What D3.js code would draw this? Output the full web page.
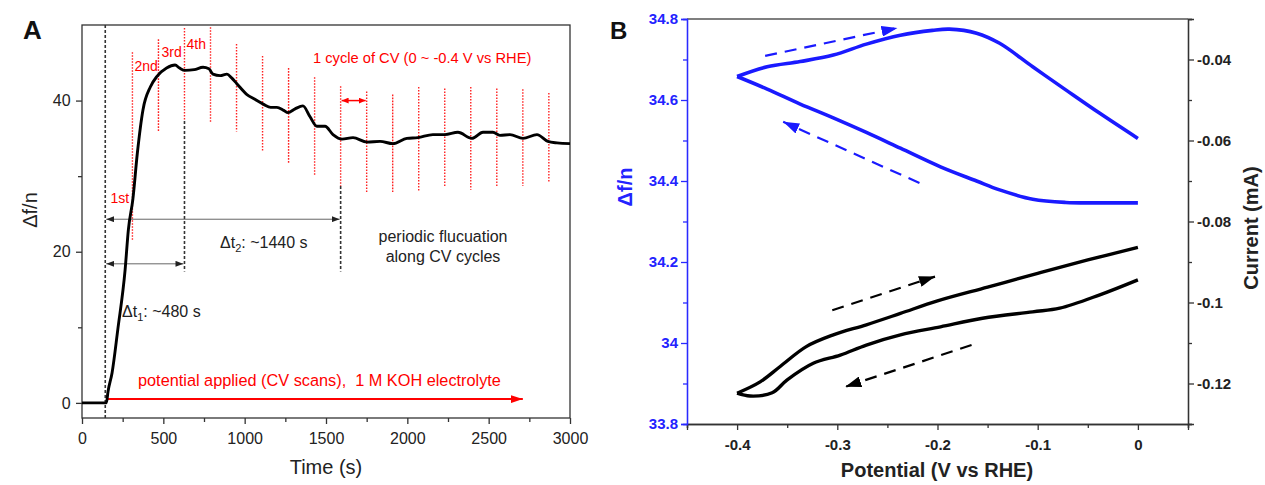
<!DOCTYPE html>
<html><head><meta charset="utf-8">
<script src="https://cdn.jsdelivr.net/npm/d3@7"></script>
<style>body{margin:0;background:#fff}svg{display:block;font-family:"Liberation Sans",Arial,sans-serif}</style>
</head><body>
<svg id="c" width="1265" height="485"></svg>
<script>
// ---------- Panel A data ----------
const timeA = [0,150,160,185,220,265,285,313,340,375,420,461,520,572,600,633,690,744,780,805,850,891,920,953,1014,1060,1117,1160,1198,1240,1266,1310,1358,1401,1444,1494,1543,1598,1666,1752,1832,1911,1997,2065,2157,2231,2311,2397,2465,2526,2569,2631,2711,2797,2864,2920,3000];
const dfA = [0,0,1.5,4,9.7,17.6,22.9,27,33,38.8,41.8,43.2,44.3,44.7,44.3,44.0,44.1,44.4,44.2,43.5,43.3,43.5,43.0,42.2,40.8,40.2,39.5,39.1,39.1,38.7,38.4,38.9,39.3,37.9,36.6,36.6,35.5,34.9,35.1,34.5,34.6,34.3,35.0,35.1,35.5,35.5,35.8,35.0,35.8,35.8,35.4,35.5,35.0,35.5,34.6,34.4,34.3];
const cycleTimes = [310,470,630,790,950,1110,1270,1430,1590,1750,1910,2070,2230,2390,2550,2710,2870];
const cycleTop = [46.4,48.1,49.6,49.7,47.5,45.9,44.3,43.1,41.9,41.2,40.8,41.8,41.6,41.8,41.6,41.5,41.0];
const cycleBottom = [21.6,35.9,37.3,37.1,35.9,33.3,31.6,30.0,28.7,27.9,27.9,27.9,28.7,28.2,28.5,28.7,29.2];
const cycleLabels = [{t:310,text:"1st",x:-22,v:26.4},{t:310,text:"2nd",x:2,v:43.9},{t:470,text:"3rd",x:3,v:45.8},{t:630,text:"4th",x:2,v:46.8}];
const xTicksA = [0,500,1000,1500,2000,2500,3000];
const yTicksA = [0,20,40];
const startTime = 143;

// ---------- Panel B data ----------
const potFwdF = [-0.4,-0.37,-0.337,-0.304,-0.271,-0.237,-0.205,-0.188,-0.161,-0.138,-0.105,-0.072,-0.038,0];
const dfFwd = [34.658,34.682,34.695,34.711,34.738,34.760,34.772,34.775,34.765,34.740,34.682,34.625,34.567,34.505];
const potRevF = [-0.4,-0.37,-0.337,-0.304,-0.271,-0.237,-0.197,-0.161,-0.138,-0.105,-0.072,-0.04,0];
const dfRev = [34.658,34.627,34.590,34.556,34.520,34.481,34.435,34.400,34.378,34.355,34.347,34.346,34.346];
const potCurA = [-0.4,-0.377,-0.357,-0.331,-0.304,-0.271,-0.237,-0.2,-0.15,-0.1,-0.05,0];
const curA = [-0.1224,-0.1196,-0.1158,-0.1109,-0.1080,-0.1055,-0.1027,-0.0996,-0.0962,-0.0928,-0.0895,-0.0864];
const potCurB = [-0.4,-0.387,-0.365,-0.350,-0.324,-0.297,-0.271,-0.237,-0.197,-0.155,-0.105,-0.078,-0.038,0];
const curB = [-0.1224,-0.1231,-0.1223,-0.1191,-0.1150,-0.1130,-0.1105,-0.1080,-0.1060,-0.1039,-0.1023,-0.1014,-0.0981,-0.0944];
const xTicksB = [-0.4,-0.3,-0.2,-0.1,0];
const yTicksBL = [33.8,34,34.2,34.4,34.6,34.8];
const yTicksBR = [-0.12,-0.1,-0.08,-0.06,-0.04];

const svg = d3.select("#c");
const defs = svg.append("defs");
function marker(id,color,w,h,orient){
  defs.append("marker").attr("id",id).attr("viewBox",`0 0 ${w} ${h}`).attr("refX",w).attr("refY",h/2)
   .attr("markerWidth",w).attr("markerHeight",h).attr("markerUnits","userSpaceOnUse").attr("orient",orient||"auto")
   .append("path").attr("d",`M0,0L${w},${h/2}L0,${h}Z`).attr("fill",color);
}
marker("gh","#222",8,6);
marker("ghStart","#222",8,6,"auto-start-reverse");
marker("rh","#f00",12,8);
marker("rs","#f00",7,6);
marker("rsStart","#f00",7,6,"auto-start-reverse");
marker("bh","#1a1aff",16,11);
marker("kh","#000",16,11);

// ---------- Panel A ----------
const xA = d3.scaleLinear().domain([0,3000]).range([82,570]);
const yA = d3.scaleLinear().domain([-2,50]).range([418,25]);
const gA = svg.append("g");
gA.append("rect").attr("x",82).attr("y",25).attr("width",488).attr("height",393).attr("fill","none").attr("stroke","#333").attr("stroke-width",1.3);
const axXA = gA.append("g").attr("transform","translate(0,418)").call(d3.axisBottom(xA).tickValues(xTicksA).tickSize(6).tickFormat(d3.format("d")));
gA.append("g").attr("transform","translate(0,418)").call(d3.axisBottom(xA).tickValues([250,750,1250,1750,2250,2750]).tickSize(4).tickFormat(""));
const axYA = gA.append("g").attr("transform","translate(82,0)").call(d3.axisLeft(yA).tickValues(yTicksA).tickSize(6));
gA.append("g").attr("transform","translate(82,0)").call(d3.axisLeft(yA).tickValues([10,30]).tickSize(4).tickFormat(""));
gA.selectAll(".domain").remove();
gA.selectAll(".tick line").attr("stroke","#333").attr("stroke-width",1.3);
gA.selectAll(".tick text").attr("font-size",16).attr("fill","#222").attr("font-family","Liberation Sans, Arial");
axXA.selectAll(".tick text").attr("dy","1.05em");
axYA.selectAll(".tick text").attr("dx","-0.15em");

cycleTimes.forEach((t,i)=>{
  gA.append("line").attr("x1",xA(t)).attr("x2",xA(t)).attr("y1",yA(cycleTop[i])).attr("y2",yA(cycleBottom[i]))
    .attr("stroke","#f22").attr("stroke-width",1.4).attr("stroke-dasharray","1.6,1.4");
});
const dashK = (t,v1,v2)=>gA.append("line").attr("x1",xA(t)).attr("x2",xA(t)).attr("y1",yA(v1)).attr("y2",yA(v2))
   .attr("stroke","#333").attr("stroke-width",1.6).attr("stroke-dasharray","3,2");
dashK(startTime,50,-2);
dashK(630,37.3,17.4);
dashK(1590,28.7,17.4);
function dblArrow(t1,t2,v,color,mk,w){
  gA.append("line").attr("x1",xA(t1)+1).attr("x2",xA(t2)-1).attr("y1",yA(v)).attr("y2",yA(v))
   .attr("stroke",color).attr("stroke-width",w).attr("marker-end",`url(#${mk})`).attr("marker-start",`url(#${mk}Start)`);
}
dblArrow(startTime,1590,24.3,"#555","gh",0.9);
dblArrow(startTime,630,18.4,"#555","gh",0.9);
dblArrow(1590,1750,40,"#f00","rs",1.5);
gA.append("line").attr("x1",xA(160)).attr("x2",xA(2710)).attr("y1",yA(0.5)).attr("y2",yA(0.5))
  .attr("stroke","#f00").attr("stroke-width",2).attr("marker-end","url(#rh)");
gA.append("path").datum(timeA.map((t,i)=>[t,dfA[i]]))
  .attr("d",d3.line().x(d=>xA(d[0])).y(d=>yA(d[1])).curve(d3.curveMonotoneX))
  .attr("fill","none").attr("stroke","#000").attr("stroke-width",2.9).attr("stroke-linejoin","round");
const txt=(g,x,y,s,o)=>{const e=g.append("text").attr("x",x).attr("y",y).text(s);o=o||{};
  e.attr("font-size",o.size||14).attr("fill",o.fill||"#222").attr("font-weight",o.weight||"normal").attr("text-anchor",o.anchor||"start");
  if(o.rot) e.attr("transform",`rotate(${o.rot},${x},${y})`); return e;};
cycleLabels.forEach(c=>txt(gA,xA(c.t)+c.x,yA(c.v),c.text,{fill:"#f00",size:14}));
txt(gA,313,63,"1 cycle of CV (0 ~ -0.4 V vs RHE)",{fill:"#f00",size:14.7});
const t2 = txt(gA,220,248,"",{size:16});
t2.append("tspan").text("\u0394t");t2.append("tspan").attr("font-size",11).attr("dy",4).text("2");t2.append("tspan").attr("dy",-4).text(": ~1440 s");
const t1 = txt(gA,122,317,"",{size:16});
t1.append("tspan").text("\u0394t");t1.append("tspan").attr("font-size",11).attr("dy",4).text("1");t1.append("tspan").attr("dy",-4).text(": ~480 s");
txt(gA,443,242,"periodic flucuation",{anchor:"middle",size:16});
txt(gA,443,262,"along CV cycles",{anchor:"middle",size:16});
txt(gA,138,386,"potential applied (CV scans),  1 M KOH electrolyte",{fill:"#f00",size:16.3}).style("white-space","pre");
txt(gA,326,474,"Time (s)",{size:20,anchor:"middle"});
txt(gA,37,210,"\u0394f/n",{size:20,anchor:"middle",rot:-90});
txt(gA,23,39,"A",{size:26,weight:"bold",fill:"#111"});

// ---------- Panel B ----------
const xB = d3.scaleLinear().domain([-0.45,0.05]).range([687,1188]);
const yBL = d3.scaleLinear().domain([33.8,34.8]).range([424,19]);
const yBR = d3.scaleLinear().domain([-0.13,-0.03]).range([424,19]);
const gB = svg.append("g");
gB.append("line").attr("x1",687).attr("x2",1188).attr("y1",19).attr("y2",19).attr("stroke","#555").attr("stroke-width",1.3);
const fmtB = d=> d===0?"0":String(+d.toFixed(2));
const axXB = gB.append("g").attr("transform","translate(0,424)").call(d3.axisBottom(xB).tickValues(xTicksB).tickSize(6).tickFormat(fmtB));
gB.append("g").attr("transform","translate(0,424)").call(d3.axisBottom(xB).tickValues([-0.45,-0.35,-0.25,-0.15,-0.05,0.05]).tickSize(4).tickFormat(""));
const axBL = gB.append("g").attr("transform","translate(687,0)").call(d3.axisLeft(yBL).tickValues(yTicksBL).tickSize(6).tickFormat(d=>String(+d.toFixed(1))));
const axBLm = gB.append("g").attr("transform","translate(687,0)").call(d3.axisLeft(yBL).tickValues([33.9,34.1,34.3,34.5,34.7]).tickSize(4).tickFormat(""));
const axBR = gB.append("g").attr("transform","translate(1188,0)").call(d3.axisRight(yBR).tickValues(yTicksBR).tickSize(6).tickFormat(d=>String(+d.toFixed(2))));
gB.append("g").attr("transform","translate(1188,0)").call(d3.axisRight(yBR).tickValues([-0.13,-0.11,-0.09,-0.07,-0.05,-0.03]).tickSize(4).tickFormat(""));
gB.selectAll(".domain").attr("stroke","#333").attr("stroke-width",1.3);
gB.selectAll(".tick line").attr("stroke","#333").attr("stroke-width",1.3);
[axBL,axBLm].forEach(a=>{a.select(".domain").attr("stroke","#2a2aff");a.selectAll(".tick line").attr("stroke","#2a2aff");});
gB.selectAll(".tick text").attr("font-size",15).attr("font-weight","bold").attr("fill","#222").attr("font-family","Liberation Sans, Arial");
axBL.selectAll(".tick text").attr("fill","#2323ff");
axXB.selectAll(".tick text").attr("dy","1.1em");
function dArrow(x1,y1,x2,y2,color,mk){
  gB.append("line").attr("x1",x1).attr("y1",y1).attr("x2",x2).attr("y2",y2).attr("stroke",color).attr("stroke-width",2.2)
    .attr("stroke-dasharray","12,8").attr("marker-end",`url(#${mk})`);
}
dArrow(xB(-0.372),yBL(34.709),xB(-0.240),yBL(34.778),"#1a1aff","bh");
dArrow(xB(-0.218),yBL(34.395),xB(-0.354),yBL(34.546),"#1a1aff","bh");
dArrow(xB(-0.305),yBR(-0.1019),xB(-0.2025),yBR(-0.0936),"#000","kh");
dArrow(xB(-0.166),yBR(-0.1105),xB(-0.292),yBR(-0.1208),"#000","kh");
const lnL = d3.line().x(d=>xB(d[0])).y(d=>yBL(d[1])).curve(d3.curveCatmullRom);
const lnR = d3.line().x(d=>xB(d[0])).y(d=>yBR(d[1])).curve(d3.curveCatmullRom);
gB.append("path").datum(potFwdF.map((p,i)=>[p,dfFwd[i]])).attr("d",lnL).attr("fill","none").attr("stroke","#1a1aff").attr("stroke-width",3.6);
gB.append("path").datum(potRevF.map((p,i)=>[p,dfRev[i]])).attr("d",lnL).attr("fill","none").attr("stroke","#1a1aff").attr("stroke-width",3.6);
gB.append("path").datum(potCurA.map((p,i)=>[p,curA[i]])).attr("d",lnR).attr("fill","none").attr("stroke","#000").attr("stroke-width",3.4).attr("stroke-linejoin","round");
gB.append("path").datum(potCurB.map((p,i)=>[p,curB[i]])).attr("d",lnR).attr("fill","none").attr("stroke","#000").attr("stroke-width",3.4).attr("stroke-linejoin","round");
txt(gB,937,477,"Potential (V vs RHE)",{size:20,weight:"bold",anchor:"middle"});
txt(gB,1258,228,"Current (mA)",{size:20,weight:"bold",anchor:"middle",rot:-90});
txt(gB,632,187,"\u0394f/n",{size:20,weight:"bold",anchor:"middle",rot:-90,fill:"#2323ff"});
txt(gB,610,39,"B",{size:24,weight:"bold",fill:"#111"});
</script>
</body></html>
